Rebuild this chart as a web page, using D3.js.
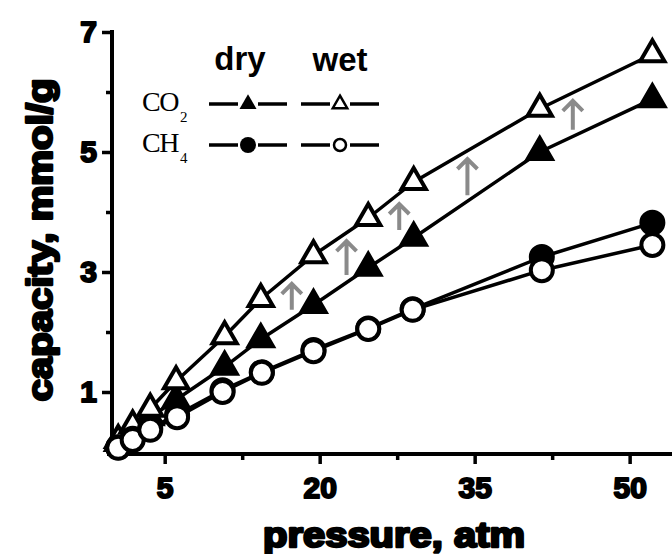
<!DOCTYPE html>
<html>
<head>
<meta charset="utf-8">
<script src="https://cdn.jsdelivr.net/npm/d3@7"></script>
<style>
  html, body { margin: 0; padding: 0; background: #fff; }
  svg { display: block; }
</style>
</head>
<body>
<svg id="chart" width="672" height="554"></svg>
<script>
// Adsorption capacity of CO2 and CH4, dry vs. wet sample
const pressureCO2 = [0.5, 1.9, 3.6, 6.1, 10.8, 14.3, 19.4, 24.7, 29.1, 41.3, 52.2];
const co2Dry      = [0.15, 0.33, 0.58, 0.87, 1.42, 1.88, 2.45, 3.07, 3.57, 5.0, 5.88];
const co2Wet      = [0.2, 0.44, 0.72, 1.18, 1.93, 2.55, 3.28, 3.9, 4.5, 5.72, 6.63];

const pressureCH4 = [0.5, 1.9, 3.6, 6.2, 10.6, 14.4, 19.4, 24.7, 29.0, 41.5, 52.2];
const ch4Dry      = [0.08, 0.22, 0.4, 0.62, 1.03, 1.33, 1.7, 2.06, 2.38, 3.25, 3.82];
const ch4Wet      = [0.07, 0.2, 0.37, 0.58, 1.0, 1.32, 1.68, 2.05, 2.37, 3.03, 3.45];

// grey arrows: CO2 uptake increase from dry to wet
const arrowPressure = [17.3, 22.6, 27.7, 34.3, 44.5];
const arrowFrom     = [2.37, 2.95, 3.7, 4.28, 5.37];
const arrowTo       = [2.82, 3.53, 4.15, 4.9, 5.87];

const xMajorTicks = [5, 20, 35, 50];
const xMinorTicks = [12.5, 27.5, 42.5];
const yMajorTicks = [1, 3, 5, 7];
const yMinorTicks = [2, 4, 6];

const svg = d3.select("#chart");
const x = d3.scaleLinear().domain([-0.1, 54.1]).range([112, 672]);
const y = d3.scaleLinear().domain([0, 7]).range([452, 32]);
const axisY = 454; // x-axis baseline
const axisX = 112; // y-axis position

const heavy = "'Liberation Sans', Arial, sans-serif";

// ---- axes ----
const gx = svg.append("g").attr("transform", `translate(0,${axisY})`);
gx.call(d3.axisBottom(x).tickValues(xMajorTicks).tickSize(10).tickPadding(13).tickFormat(d3.format("d")));
gx.call(g => g.select(".domain").remove());
const gxm = svg.append("g").attr("transform", `translate(0,${axisY})`);
gxm.call(d3.axisBottom(x).tickValues(xMinorTicks).tickSize(6).tickFormat(""));
gxm.call(g => g.select(".domain").remove());

const gy = svg.append("g").attr("transform", `translate(${axisX},0)`);
gy.call(d3.axisLeft(y).tickValues(yMajorTicks).tickSize(10).tickPadding(5).tickFormat(d3.format("d")));
gy.call(g => g.select(".domain").remove());
const gym = svg.append("g").attr("transform", `translate(${axisX},0)`);
gym.call(d3.axisLeft(y).tickValues(yMinorTicks).tickSize(6).tickFormat(""));
gym.call(g => g.select(".domain").remove());

svg.selectAll(".tick line").attr("stroke", "#000").attr("stroke-width", 3.5);
svg.selectAll(".tick text")
  .attr("fill", "#000")
  .attr("stroke", "#000").attr("stroke-width", 2).attr("stroke-linejoin", "round")
  .style("font-family", heavy).style("font-weight", "bold").style("font-size", "30px");

svg.append("line").attr("x1", 107).attr("x2", 672).attr("y1", axisY).attr("y2", axisY)
  .attr("stroke", "#000").attr("stroke-width", 4);
svg.append("line").attr("x1", axisX).attr("x2", axisX).attr("y1", y(7) - 2).attr("y2", axisY + 2)
  .attr("stroke", "#000").attr("stroke-width", 4);

// ---- axis titles ----
svg.append("text")
  .attr("x", 394).attr("y", 547)
  .attr("text-anchor", "middle")
  .attr("textLength", 262).attr("lengthAdjust", "spacingAndGlyphs")
  .attr("fill", "#000").attr("stroke", "#000").attr("stroke-width", 2.5).attr("stroke-linejoin", "round")
  .style("font-family", heavy).style("font-weight", "bold").style("font-size", "35px")
  .text("pressure, atm");

svg.append("text")
  .attr("transform", "translate(52,240) rotate(-90)")
  .attr("text-anchor", "middle")
  .attr("textLength", 323).attr("lengthAdjust", "spacingAndGlyphs")
  .attr("fill", "#000").attr("stroke", "#000").attr("stroke-width", 2.5).attr("stroke-linejoin", "round")
  .style("font-family", heavy).style("font-weight", "bold").style("font-size", "35px")
  .text("capacity, mmol/g");

// ---- arrows ----
const arrowColor = "#8a8a8a";
arrowPressure.forEach((p, i) => {
  const ax = x(p), y0 = y(arrowFrom[i]), y1 = y(arrowTo[i]);
  svg.append("path")
    .attr("d", `M${ax},${y0}L${ax},${y1 + 1}M${ax - 10},${y1 + 11}L${ax},${y1 + 1}L${ax + 10},${y1 + 11}`)
    .attr("fill", "none").attr("stroke", arrowColor).attr("stroke-width", 4)
    .attr("stroke-linejoin", "miter");
});

// ---- series ----
const line = d3.line().x(d => x(d[0])).y(d => y(d[1]));
const tri = d3.symbol().type(d3.symbolTriangle).size(255);

function series(px, py, shape, filled) {
  const pts = px.map((p, i) => [p, py[i]]);
  svg.append("path").attr("d", line(pts))
    .attr("fill", "none").attr("stroke", "#000").attr("stroke-width", 3.5)
    .attr("stroke-linejoin", "round");
  const g = svg.append("g");
  if (shape === "triangle") {
    g.selectAll("path").data(pts).join("path")
      .attr("transform", d => `translate(${x(d[0])},${y(d[1])})`)
      .attr("d", tri())
      .attr("fill", filled ? "#000" : "#fff")
      .attr("stroke", "#000").attr("stroke-width", 4).attr("stroke-linejoin", "miter");
  } else {
    g.selectAll("circle").data(pts).join("circle")
      .attr("cx", d => x(d[0])).attr("cy", d => y(d[1])).attr("r", 11)
      .attr("fill", filled ? "#000" : "#fff")
      .attr("stroke", "#000").attr("stroke-width", 4);
  }
}

series(pressureCO2, co2Dry, "triangle", true);
series(pressureCO2, co2Wet, "triangle", false);
series(pressureCH4, ch4Dry, "circle", true);
series(pressureCH4, ch4Wet, "circle", false);

// ---- legend ----
const legendFont = "'Liberation Sans', Arial, sans-serif";
svg.append("text").attr("x", 240).attr("y", 70).attr("text-anchor", "middle")
  .style("font-family", legendFont).style("font-weight", "bold").style("font-size", "33px")
  .text("dry");
svg.append("text").attr("x", 340).attr("y", 71).attr("text-anchor", "middle")
  .style("font-family", legendFont).style("font-weight", "bold").style("font-size", "33px")
  .text("wet");

const serif = "'Liberation Serif', 'Times New Roman', serif";
function gasLabel(main, sub, ly) {
  const t = svg.append("text").attr("x", 142).attr("y", ly + 7)
    .style("font-family", serif).style("font-size", "28px").attr("letter-spacing", "-1.5");
  t.append("tspan").text(main);
  t.append("tspan").attr("dy", 11).attr("dx", 2).style("font-size", "15px").text(sub);
}
gasLabel("CO", "2", 104);
gasLabel("CH", "4", 145);

// legend sample: short line pieces either side of a small marker
function legendEntry(cx, ly, shape, filled) {
  [[cx - 39, cx - 10], [cx + 10, cx + 39]].forEach(([a, b]) => {
    svg.append("line").attr("x1", a).attr("x2", b).attr("y1", ly).attr("y2", ly)
      .attr("stroke", "#000").attr("stroke-width", 3.5);
  });
  if (shape === "triangle") {
    const sym = d3.symbol().type(d3.symbolTriangle).size(filled ? 125 : 90);
    svg.append("path").attr("transform", `translate(${cx},${ly})`).attr("d", sym())
      .attr("fill", filled ? "#000" : "#fff").attr("stroke", "#000")
      .attr("stroke-width", filled ? 0 : 2.5);
  } else {
    svg.append("circle").attr("cx", cx).attr("cy", ly).attr("r", filled ? 8 : 6)
      .attr("fill", filled ? "#000" : "#fff").attr("stroke", "#000")
      .attr("stroke-width", filled ? 0 : 2.5);
  }
}
legendEntry(248, 104, "triangle", true);
legendEntry(340, 104, "triangle", false);
legendEntry(248, 145, "circle", true);
legendEntry(340, 145, "circle", false);
</script>
</body>
</html>
